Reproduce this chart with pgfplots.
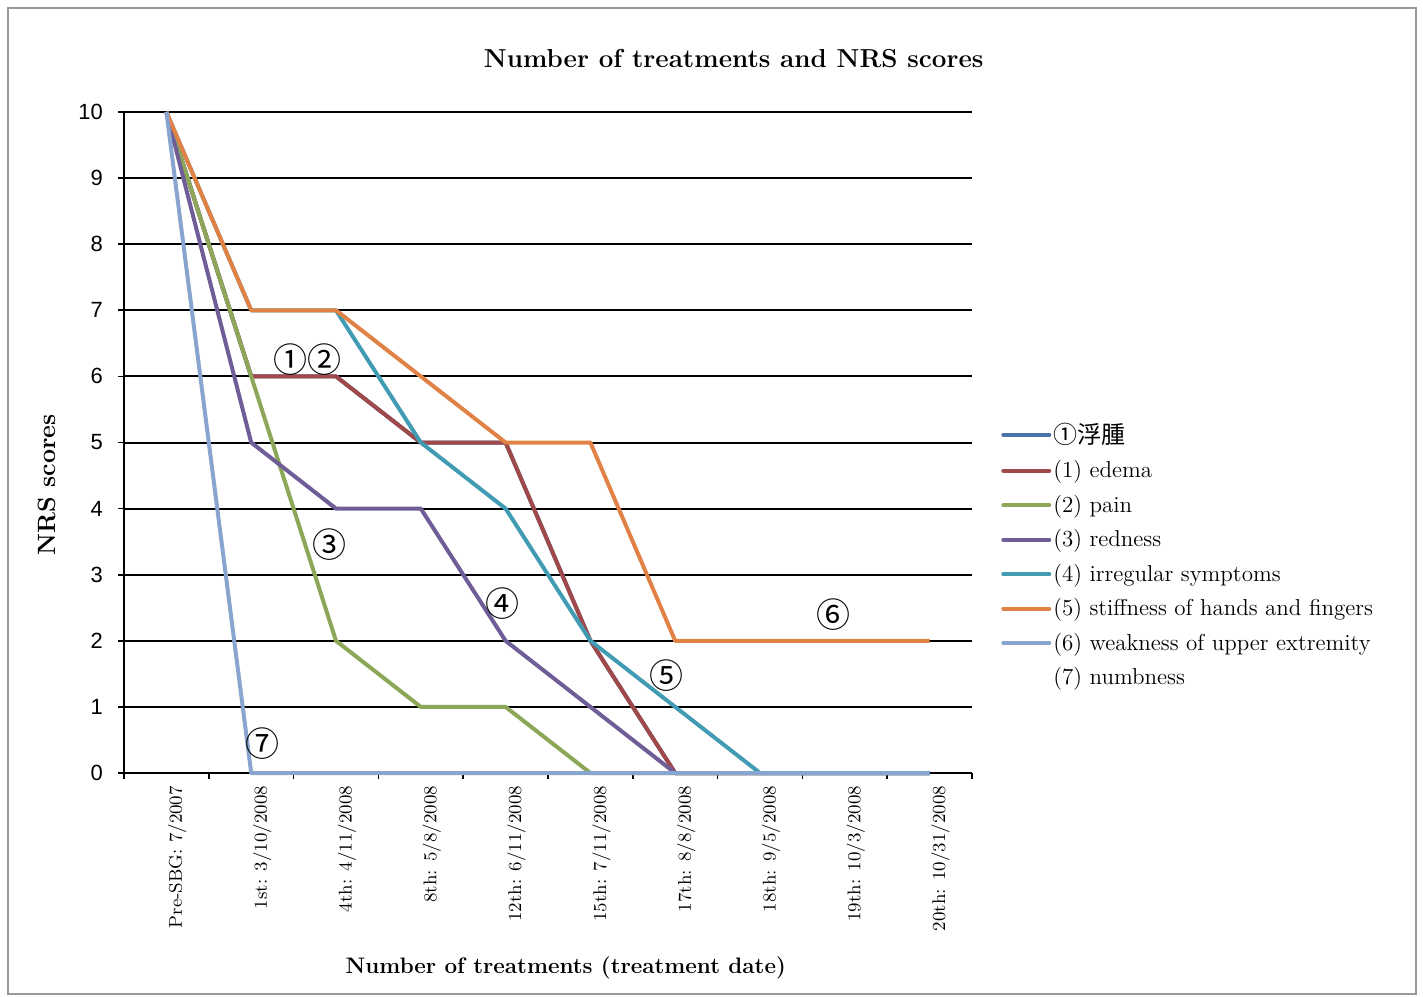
\documentclass[border=0pt]{standalone}
\usepackage{fontspec}
\usepackage{pgfplots}
\pgfplotsset{compat=1.18}
\newfontfamily\cjk{Noto Sans CJK JP}
\newfontfamily\arialf{Liberation Sans}
\definecolor{cBlue}{HTML}{4A72A6}
\definecolor{cRed}{HTML}{A0494B}
\definecolor{cGreen}{HTML}{8BA757}
\definecolor{cPurple}{HTML}{6F5D97}
\definecolor{cTeal}{HTML}{409BB3}
\definecolor{cOrange}{HTML}{E08245}
\definecolor{cLight}{HTML}{87A5CF}
\begin{document}
\begin{tikzpicture}
\useasboundingbox (-62pt,-111.5pt) rectangle (649.5pt,386.5pt);
\draw[black!40, line width=0.6pt] (-58pt,-110.5pt) rectangle (646pt,382.5pt);
\begin{axis}[
  at={(0pt,0pt)}, anchor=south west,
  scale only axis, width=424pt, height=330.5pt,
  xmin=-0.5, xmax=9.5, ymin=0, ymax=10,
  clip=false,
  axis x line*=bottom, axis y line*=left,
  axis line style={line width=1pt, black, -},
  xtick={0,...,9},
  xticklabels={Pre-SBG: 7/2007, 1st: 3/10/2008, 4th: 4/11/2008, 8th: 5/8/2008, 12th: 6/11/2008, 15th: 7/11/2008, 17th: 8/8/2008, 18th: 9/5/2008, 19th: 10/3/2008, 20th: 10/31/2008},
  major x tick style={draw=none},
  minor xtick={-0.5,0.5,...,9.5},
  minor tick length=3pt,
  minor x tick style={black, line width=0.8pt},
  x tick label style={xshift=5.5pt, rotate=90, anchor=east, font=\fontsize{9.2}{9.2}\selectfont},
  ytick={0,...,10},
  major tick length=3pt,
  y tick style={black, line width=0.8pt},
  tick align=outside,
  y tick label style={xshift=-4pt, font=\arialf\fontsize{11}{11}\selectfont},
  /pgf/number format/assume math mode=true,
  ymajorgrids, grid style={black, line width=1pt},
  title={Number of treatments and NRS scores},
  title style={at={(axis description cs:0.719,1.062)}, anchor=center, font=\bfseries\fontsize{13}{15}\selectfont},
  xlabel={Number of treatments (treatment date)},
  xlabel style={at={(axis description cs:0.521,-0.295)}, anchor=center, font=\bfseries\fontsize{11.2}{13}\selectfont},
  ylabel={NRS scores},
  ylabel style={at={(axis description cs:-0.091,0.436)}, anchor=center, rotate=0, font=\bfseries\fontsize{12.5}{14}\selectfont},
  legend style={at={(axis description cs:1.027,0.539)}, anchor=north west, draw=none, fill=none,
    font=\fontsize{11.5}{13}\selectfont, row sep=5.1pt,
    nodes={inner sep=1pt}},
  legend cell align=left,
  legend image code/.code={\draw[#1, line width=2pt, line cap=round] (0pt,0pt) -- (23pt,0pt);},
  every axis plot/.append style={line width=2pt, line join=round, mark=none},
]
\addplot[cBlue] coordinates {(0,10) (1,6) (2,6) (3,5) (4,5) (5,2) (6,0) (7,0) (8,0) (9,0)};
\addlegendentry{{\cjk\fontsize{12}{13}\selectfont ①浮腫}}
\addplot[cRed] coordinates {(0,10) (1,6) (2,6) (3,5) (4,5) (5,2) (6,0) (7,0) (8,0) (9,0)};
\addlegendentry{(1) edema}
\addplot[cGreen] coordinates {(0,10) (1,6) (2,2) (3,1) (4,1) (5,0) (6,0) (7,0) (8,0) (9,0)};
\addlegendentry{(2) pain}
\addplot[cPurple] coordinates {(0,10) (1,5) (2,4) (3,4) (4,2) (5,1) (6,0) (7,0) (8,0) (9,0)};
\addlegendentry{(3) redness}
\addplot[cTeal] coordinates {(0,10) (1,7) (2,7) (3,5) (4,4) (5,2) (6,1) (7,0) (8,0) (9,0)};
\addlegendentry{(4) irregular symptoms}
\addplot[cOrange] coordinates {(0,10) (1,7) (2,7) (3,6) (4,5) (5,5) (6,2) (7,2) (8,2) (9,2)};
\addlegendentry{(5) stiffness of hands and fingers}
\addplot[cLight] coordinates {(0,10) (1,0) (2,0) (3,0) (4,0) (5,0) (6,0) (7,0) (8,0) (9,0)};
\addlegendentry{(6) weakness of upper extremity}
\addlegendimage{draw opacity=0, white}
\addlegendentry{(7) numbness}
\node[font=\cjk\fontsize{17}{17}\selectfont, inner sep=0pt] at (axis cs:1.66,6.25) {①②};
\node[font=\cjk\fontsize{17}{17}\selectfont, inner sep=0pt] at (axis cs:1.92,3.46) {③};
\node[font=\cjk\fontsize{17}{17}\selectfont, inner sep=0pt] at (axis cs:3.96,2.56) {④};
\node[font=\cjk\fontsize{17}{17}\selectfont, inner sep=0pt] at (axis cs:5.90,1.47) {⑤};
\node[font=\cjk\fontsize{17}{17}\selectfont, inner sep=0pt] at (axis cs:7.87,2.39) {⑥};
\node[font=\cjk\fontsize{17}{17}\selectfont, inner sep=0pt] at (axis cs:1.13,0.44) {⑦};
\end{axis}
\end{tikzpicture}
\end{document}
